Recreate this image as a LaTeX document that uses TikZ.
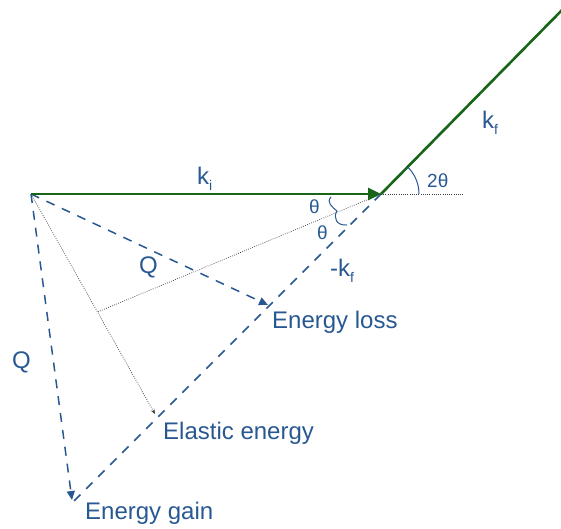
\documentclass[tikz,border=0pt]{standalone}
\usepackage{fontspec}
\setmainfont{Liberation Sans}
\usetikzlibrary{arrows.meta}
\definecolor{lblue}{RGB}{40,88,146}
\definecolor{dgreen}{RGB}{24,100,24}
\tikzset{
  lbl/.style={anchor=base west,inner sep=0pt,text=lblue,font=\fontsize{24}{27}\selectfont},
  kvec/.style={draw=dgreen,line width=2.6pt},
  qdash/.style={draw=lblue,line width=1.5pt,dash pattern=on 9pt off 8pt},
  aux/.style={draw=black!75,line width=0.7pt,dash pattern=on 0.8pt off 1.4pt},
  angarc/.style={draw=lblue,line width=1pt},
  bhead/.style={-{Triangle[length=9pt,width=8pt]}},
}
\begin{document}
\begin{tikzpicture}[x=1pt,y=-1pt]
\useasboundingbox (0,0) rectangle (561,528);
\clip (0,0) rectangle (561,528);
\coordinate (O) at (31,194);
\coordinate (A) at (381,194);
\coordinate (Kt) at (565,7);
\coordinate (Hor) at (463,194);
\coordinate (Foot) at (97.5,312);
\coordinate (Loss) at (268,305);
\coordinate (Elas) at (155,414);
\coordinate (Gain) at (72,500);
\coordinate (Mkf) at (73,502);
% auxiliary dotted lines
\draw[aux] (A) -- (Hor);
\draw[aux] (A) -- (Foot);
\draw[aux,-{Stealth[length=5pt,width=4pt]}] (O) -- (Elas);
% -kf dashed
\draw[qdash] (A) -- (Mkf);
% Q vectors
\draw[qdash,bhead] (O) -- (Loss);
\draw[qdash,bhead] (O) -- (Gain);
% wave vectors
\draw[kvec,-{Triangle[length=13pt,width=12pt]}] (O) -- (A);
\draw[kvec] (A) -- (Kt);
% angle marks
\coordinate (t1) at (331,197);
\coordinate (t2) at (337,211);
\coordinate (t3) at (347,225);
\draw[angarc] (t1) .. controls (326,202) and (332,207) .. (t2);
\draw[angarc] (t2) .. controls (333,217) and (336,226) .. (t3);
\draw[angarc] ([shift={(0:38)}]A) arc[start angle=0,end angle=-45,radius=38];
% labels
\node[lbl] (lki) at (197,184) {k\raisebox{-0.25em}{\fontsize{14}{14}\selectfont i}};
\node[lbl] (lkf) at (482,128) {k\raisebox{-0.25em}{\fontsize{14}{14}\selectfont f}};
\node[lbl] (l2t) at (427,187) {\fontsize{19}{20}\selectfont 2θ};
\node[lbl] (lt1) at (309,213) {\fontsize{19}{20}\selectfont θ};
\node[lbl] (lt2) at (317,239) {\fontsize{19}{20}\selectfont θ};
\node[lbl] (lmkf) at (330,276) {-k\raisebox{-0.25em}{\fontsize{14}{14}\selectfont f}};
\node[lbl] (lq1) at (139,273) {Q};
\node[lbl] (lq2) at (12,368) {Q};
\node[lbl] (lloss) at (272,328) {Energy loss};
\node[lbl] (lelas) at (163,439) {Elastic energy};
\node[lbl] (lgain) at (85,519) {Energy gain};
\end{tikzpicture}
\end{document}
